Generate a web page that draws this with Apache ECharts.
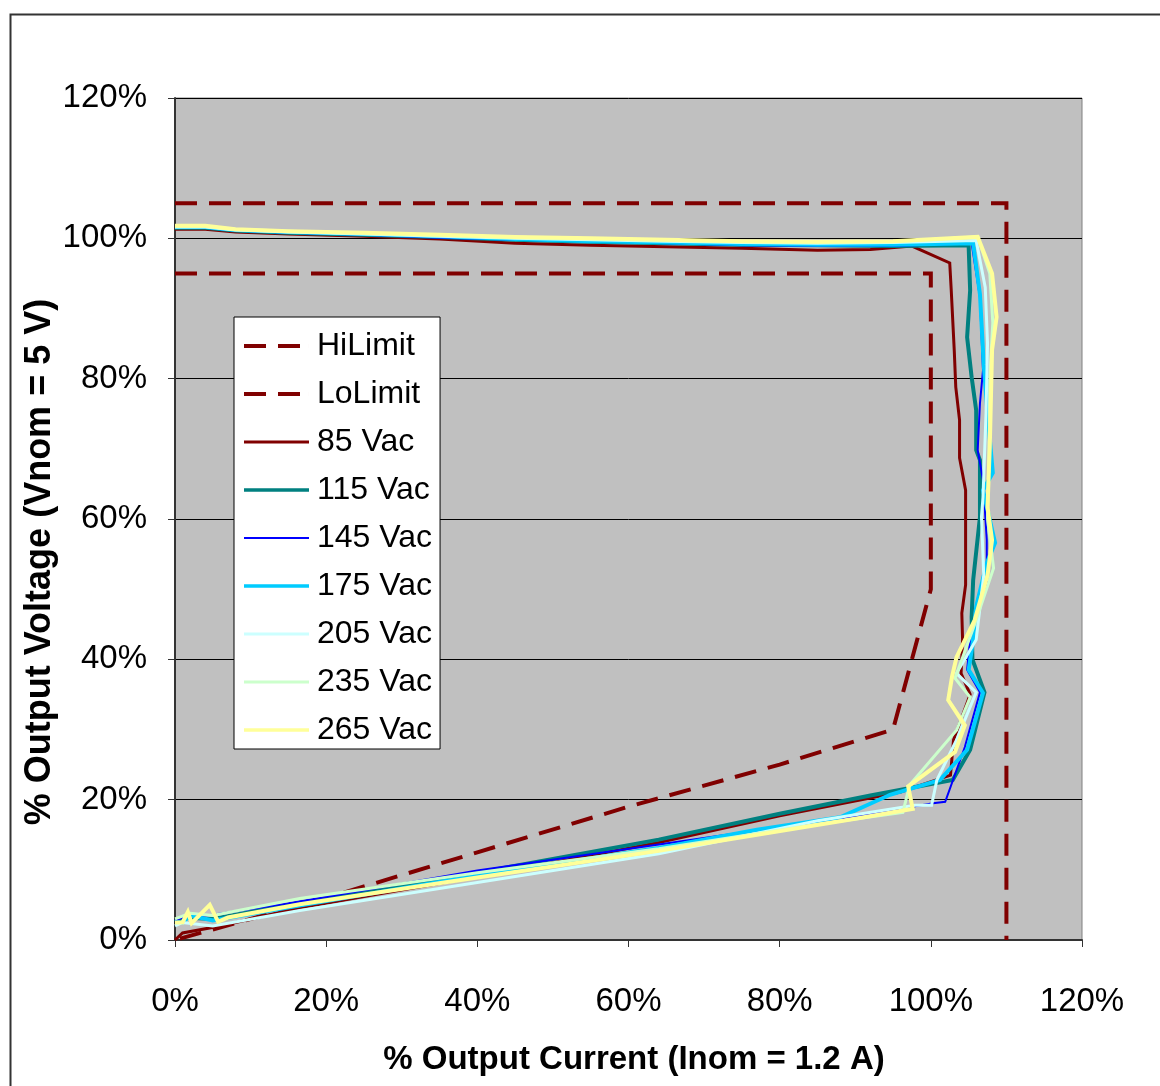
<!DOCTYPE html>
<html>
<head>
<meta charset="utf-8">
<script src="https://cdn.jsdelivr.net/npm/echarts@6/dist/echarts.min.js"></script>
<style>
html,body{margin:0;padding:0;background:#fff;}
#chart{width:1160px;height:1086px;}
</style>
</head>
<body>
<div id="chart"></div>
<script>
// Axis ticks (percent)
const xTicks = [0, 20, 40, 60, 80, 100, 120];
const yTicks = [0, 20, 40, 60, 80, 100, 120];

// Limits [current %, voltage %]
const hiLimit = [[0,105],[110,105],[110,0]];
const loLimit = [[0,95],[100,95],[100,50],[95,30],[80,25],[60,19],[40,12.5],[20,6],[0,0]];

// Measured curves [current %, voltage %]
const vac85 = [[0,101.3],[4,101.3],[8,100.9],[15,100.6],[25,100.3],[35,99.9],[45,99.3],[55,99.0],[65,98.8],[75,98.6],[85,98.3],[92,98.4],[97.5,98.9],[102.5,96.5],[102.7,92.6],[103.1,84],[103.3,78.8],[103.8,74.1],[103.8,68.7],[104.6,64.1],[104.6,54.6],[104.6,50.6],[104.1,46.6],[104.2,42.8],[104.0,38.0],[105.2,35.0],[103.0,28.5],[102.6,23.5],[96,21.1],[80,17.7],[64,13.9],[40,9.0],[16.5,4.6],[6,2.0],[1,1.0],[0,0]];
const vac115 = [[0,101.5],[4,101.5],[8,101.1],[15,100.8],[25,100.5],[35,100.2],[45,99.8],[55,99.5],[65,99.3],[75,99.1],[85,99.0],[95,98.9],[105.0,99.0],[105.2,92.6],[104.8,85.9],[105.4,80.2],[106.0,75.5],[106.0,69.8],[106.5,68.4],[106.5,60.3],[105.6,51.3],[105.4,46.0],[105.5,40],[107.1,35.3],[105.2,27.1],[102.9,22.8],[92,20.6],[80,18.0],[64,14.3],[40,9.6],[16.5,5.3],[5,3.0],[1,3.2],[0,2.6]];
const vac145 = [[0,101.5],[4,101.5],[8,101.1],[15,100.8],[25,100.5],[35,100.1],[45,99.8],[55,99.6],[65,99.3],[75,99.0],[85,98.9],[95,98.9],[105.4,99.3],[106.5,91.6],[106.9,81.2],[106.5,76.5],[106.2,69.8],[106.9,65.6],[107.4,57],[107.4,50.9],[105.2,42.8],[104.8,38.5],[106.5,35.3],[104.5,27.5],[101.9,19.7],[100.3,19.5],[88,17.3],[64,13.6],[40,9.9],[16.5,5.5],[5,3.6],[1,3.2],[0,2.8]];
const vac175 = [[0,101.6],[4,101.6],[8,101.2],[15,100.9],[25,100.6],[35,100.3],[45,99.9],[55,99.6],[65,99.4],[75,99.2],[85,99.1],[95,99.1],[105.6,99.3],[106.5,92],[107,82],[107.5,75],[108.2,66.6],[106.9,64.1],[108.5,56.6],[107.4,53.7],[106,47.5],[105.5,42],[105,38.5],[106.9,35.2],[104.8,27.1],[101.2,22.8],[94.6,20.7],[88,17.5],[77,15.7],[64,13.1],[40,9.2],[16.5,4.9],[5,2.8],[2,3.5],[1,2.5],[0,2.5]];
const vac205 = [[0,101.6],[4,101.6],[8,101.2],[15,100.9],[25,100.6],[35,100.3],[45,100.0],[55,99.8],[65,99.6],[75,99.4],[85,99.3],[95,99.4],[106,99.7],[107.2,93],[107.5,85],[107.3,75],[106.9,63.1],[106.7,60.3],[107,52],[106,42.8],[103.4,38],[106,35.3],[103.4,28.5],[100.8,22.8],[100.1,19.2],[97.9,19.2],[85,17],[64,12.3],[40,8.2],[16.5,4.2],[5,2.0],[1,2.5],[0,2.0]];
const vac235 = [[0,101.7],[4,101.7],[8,101.3],[15,101.0],[25,100.7],[35,100.4],[45,100.1],[55,99.9],[65,99.7],[75,99.5],[85,99.4],[95,99.5],[106.2,100.2],[107.8,95],[108.2,88],[107.8,80],[107.7,70],[107.5,60],[108.3,53],[105.8,45],[103.2,37.3],[105.2,34.6],[103.4,29.9],[97.2,22.1],[96.3,18.2],[85,16.5],[64,13],[40,9.6],[16.5,5.9],[5,3.5],[2,3.8],[0,3.0]];
const vac265 = [[0,101.8],[4,101.8],[8,101.3],[15,101.0],[25,100.8],[35,100.5],[45,100.2],[55,100.0],[65,99.8],[75,99.6],[85,99.5],[95,99.6],[106.2,100.2],[108.1,95],[108.7,88.8],[108.1,84.1],[107.8,70.3],[107.5,61.7],[108.1,57],[107.5,52],[105.8,45.6],[103.4,40.3],[102.8,37.5],[102.3,34.2],[104.5,30.6],[103.2,26.8],[97,21.9],[97.6,18.7],[90.6,17.4],[64,12.7],[40,8.9],[16.5,5.1],[7,3.2],[5.7,2.6],[4.6,5.0],[2.2,2.4],[1.7,4.0],[1,2.5],[0,2.5]];

const seriesNames = ['HiLimit','LoLimit','85 Vac','115 Vac','145 Vac','175 Vac','205 Vac','235 Vac','265 Vac'];
const seriesData = [hiLimit, loLimit, vac85, vac115, vac145, vac175, vac205, vac235, vac265];
const seriesColors = ['#800000','#800000','#800000','#008080','#0000FF','#00CCFF','#CCFFFF','#CCFFCC','#FFFF99'];
const seriesWidths = [4, 4, 3, 4, 2, 4, 3, 3, 4];
const seriesDashed = [true, true, false, false, false, false, false, false, false];

const FONT = '"Liberation Sans", Arial, sans-serif';

// legend icon shapes: 65 x 4 bounding box, thin slivers keep the box so thickness can vary
function legendIcon(dashed, w) {
  const edge = 'M0,0h65v0.01h-65zM0,3.99h65v0.01h-65z';
  if (dashed) return 'path://M0,0h22v4h-22zM34,0h22v4h-22zM64.99,0h0.01v4h-0.01z';
  const t = (4 - w) / 2;
  return 'path://' + edge + 'M0,' + t + 'h65v' + w + 'h-65z';
}

const chart = echarts.init(document.getElementById('chart'), null, {renderer: 'canvas'});

const series = seriesNames.map((name, i) => ({
  name: name,
  type: 'line',
  data: seriesData[i],
  showSymbol: false,
  symbol: 'none',
  smooth: false,
  clip: false,
  lineStyle: {
    color: seriesColors[i],
    width: seriesWidths[i],
    type: seriesDashed[i] ? [22, 12] : 'solid',
    cap: 'butt',
    join: 'miter'
  },
  itemStyle: {color: seriesColors[i]},
  emphasis: {disabled: true},
  z: 2 + i
}));

chart.setOption({
  animation: false,
  backgroundColor: '#fff',
  grid: {
    left: 175, top: 98, width: 907, height: 842,
    show: true, backgroundColor: '#C0C0C0', borderColor: '#808080', borderWidth: 1
  },
  xAxis: {
    type: 'value', min: xTicks[0], max: xTicks[xTicks.length - 1], interval: 20,
    axisLine: {show: true, onZero: false, lineStyle: {color: '#333', width: 2}},
    axisTick: {show: true, inside: false, length: 7, lineStyle: {color: '#333', width: 1}},
    axisLabel: {formatter: '{value}%', color: '#000', fontSize: 33, fontFamily: FONT, margin: 45},
    splitLine: {show: false}
  },
  yAxis: {
    type: 'value', min: yTicks[0], max: yTicks[yTicks.length - 1], interval: 20,
    axisLine: {show: true, onZero: false, lineStyle: {color: '#333', width: 2}},
    axisTick: {show: true, inside: false, length: 7, lineStyle: {color: '#333', width: 1}},
    axisLabel: {formatter: '{value}%', color: '#000', fontSize: 33, fontFamily: FONT, margin: 28, padding: [6, 0, 0, 0]},
    splitLine: {show: true, lineStyle: {color: '#000', width: 1}}
  },
  legend: {
    show: true,
    orient: 'vertical',
    left: 234, top: 317,
    backgroundColor: '#fff',
    borderColor: '#000',
    borderWidth: 1,
    borderRadius: 0,
    padding: [13, 8, 3, 10],
    itemWidth: 65,
    itemHeight: 4,
    itemGap: 16,
    symbolKeepAspect: false,
    selectedMode: false,
    itemStyle: {borderWidth: 0},
    textStyle: {fontSize: 32, color: '#000', fontFamily: FONT, padding: [0, 0, 0, 3]},
    data: seriesNames.map((name, i) => ({
      name: name,
      icon: legendIcon(seriesDashed[i], seriesWidths[i] > 3 ? 3.5 : seriesWidths[i]),
      itemStyle: {color: seriesColors[i], borderWidth: 0}
    }))
  },
  graphic: [
    {type: 'rect', left: 8, top: 12, shape: {x: 0, y: 0, width: 1170, height: 1100},
     style: {fill: 'none', stroke: '#333', lineWidth: 2}, silent: true, z: -10},
    {type: 'text', x: 634, y: 1060,
     style: {text: '% Output Current (Inom = 1.2 A)', font: 'bold 33px ' + FONT, fill: '#000', textAlign: 'center', textVerticalAlign: 'middle'}},
    {type: 'text', x: 40, y: 562, rotation: Math.PI / 2,
     style: {text: '% Output Voltage (Vnom = 5 V)', font: 'bold 36px ' + FONT, fill: '#000', textAlign: 'center', textVerticalAlign: 'middle'}}
  ],
  series: series
});
</script>
</body>
</html>
